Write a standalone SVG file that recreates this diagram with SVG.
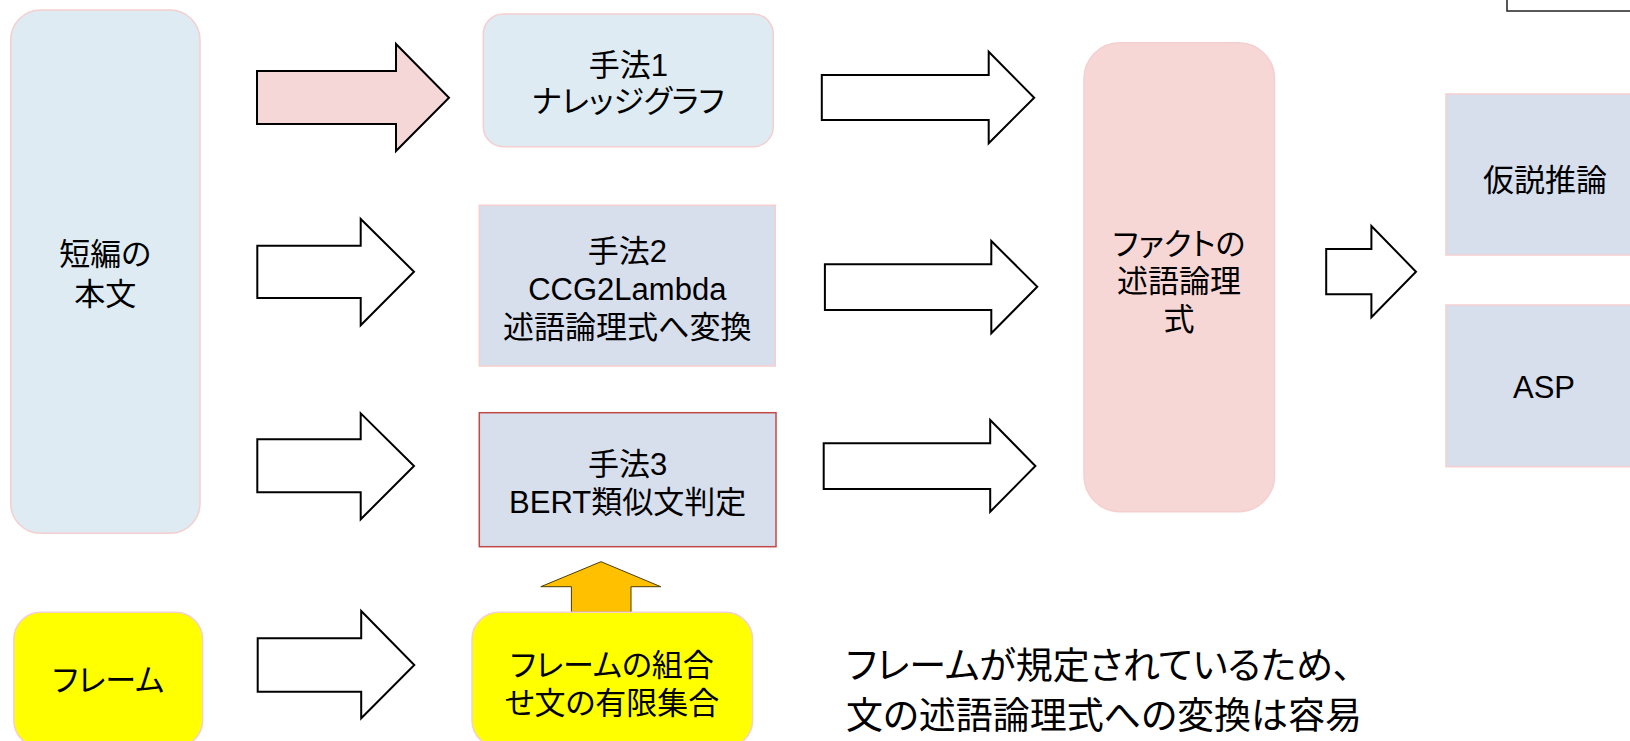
<svg xmlns="http://www.w3.org/2000/svg" width="1630" height="741" viewBox="0 0 1630 741">
<style>
text{font-family:"Liberation Sans","Noto Sans CJK JP",sans-serif;fill:#000;text-anchor:middle;font-feature-settings:"palt";}
.t{font-size:31px}
.big{font-size:37px;text-anchor:start}
.box{stroke:#F5CFCF;stroke-width:1.5}
.blue{fill:#DEEBF3}
.lav{fill:#D7DEEC}
.pink{fill:#F6D7D6}
.yel{fill:#FFFF00}
.arr{fill:#fff;stroke:#000;stroke-width:2;stroke-linejoin:miter}
</style>
<rect width="1630" height="741" fill="#fff"/>
<g id="corner-box"><rect x="1507" y="-30" width="200" height="41" fill="#fff" stroke="#222" stroke-width="1.5"/></g>
<g id="connectors">
<polygon class="arr" style="fill:#F6D7D7" points="257,71 396,71 396,44 449,97.7 396,151 396,124 257,124"/>
<polygon class="arr" points="257.3,245.7 360.7,245.7 360.7,219 414,271.7 360.7,325.3 360.7,298 257.3,298"/>
<polygon class="arr" points="257.3,439.3 360.7,439.3 360.7,413.3 414,466 360.7,519.3 360.7,492.3 257.3,492.3"/>
<polygon class="arr" points="257.7,638.3 361.2,638.3 361.2,611 414.3,665 361.2,718.3 361.2,691.7 257.7,691.7"/>
<polygon class="arr" points="821.8,75 988.7,75 988.7,51.7 1034.2,97.7 988.7,143.3 988.7,120 821.8,120"/>
<polygon class="arr" points="824.9,264.3 991.3,264.3 991.3,241 1037.3,286.7 991.3,333.3 991.3,310 824.9,310"/>
<polygon class="arr" points="823.7,443.3 990.2,443.3 990.2,420 1035.4,466 990.2,511.7 990.2,489 823.7,489"/>
<polygon class="arr" points="1326.2,249 1371.4,249 1371.4,226 1416,271.7 1371.4,317.3 1371.4,294.3 1326.2,294.3"/>
<polygon points="571.4,612.3 571.4,586.7 540.8,586.7 601,561.7 660.7,586.7 631,586.7 631,612.3" fill="#FFC000" stroke="#4a3c00" stroke-width="1"/>
</g>
<g id="n-honbun"><rect class="box blue" x="10.7" y="10" width="189.3" height="523.3" rx="30"/>
<text class="t" x="105.3" y="265">短編の</text><text class="t" x="105.3" y="305">本文</text></g>
<g id="n-method1"><rect class="box blue" x="483.3" y="14" width="290" height="132.7" rx="20"/>
<text class="t" x="628.3" y="76">手法1</text><text class="t" x="628.3" y="112">ナレッジグラフ</text></g>
<g id="n-method2"><rect class="box lav" x="479.3" y="205.3" width="296" height="160.7"/>
<text class="t" x="627.3" y="262">手法2</text><text class="t" x="627.3" y="300">CCG2Lambda</text><text class="t" x="627.3" y="338">述語論理式へ変換</text></g>
<g id="n-method3"><rect class="lav" x="479.3" y="412.7" width="296.7" height="134" stroke="#BE4B48" stroke-width="1.5"/>
<text class="t" x="627.6" y="474.5">手法3</text><text class="t" x="627.6" y="513">BERT類似文判定</text></g>
<g id="n-fact"><rect class="box pink" x="1084" y="42.7" width="190.5" height="469" rx="36"/>
<text class="t" x="1179" y="254.5">ファクトの</text><text class="t" x="1179" y="292">述語論理</text><text class="t" x="1179" y="329.5">式</text></g>
<g id="n-kasetsu"><rect class="box lav" x="1446" y="94" width="198" height="161"/>
<text class="t" x="1545" y="191">仮説推論</text></g>
<g id="n-asp"><rect class="box lav" x="1446" y="305" width="198" height="161.7"/>
<text class="t" x="1544" y="398">ASP</text></g>
<g id="n-frame"><rect class="box yel" x="13.8" y="612.3" width="188.8" height="135" rx="27"/>
<text class="t" x="108.2" y="691">フレーム</text></g>
<g id="n-combo"><rect class="box yel" x="472" y="612.3" width="280.6" height="135" rx="27"/>
<text class="t" x="612" y="676">フレームの組合</text><text class="t" x="612" y="714.3">せ文の有限集合</text></g>
<g id="note"><text class="big" x="846" y="679">フレームが規定されているため、</text><text class="big" x="846" y="729">文の述語論理式への変換は容易</text></g>
</svg>
